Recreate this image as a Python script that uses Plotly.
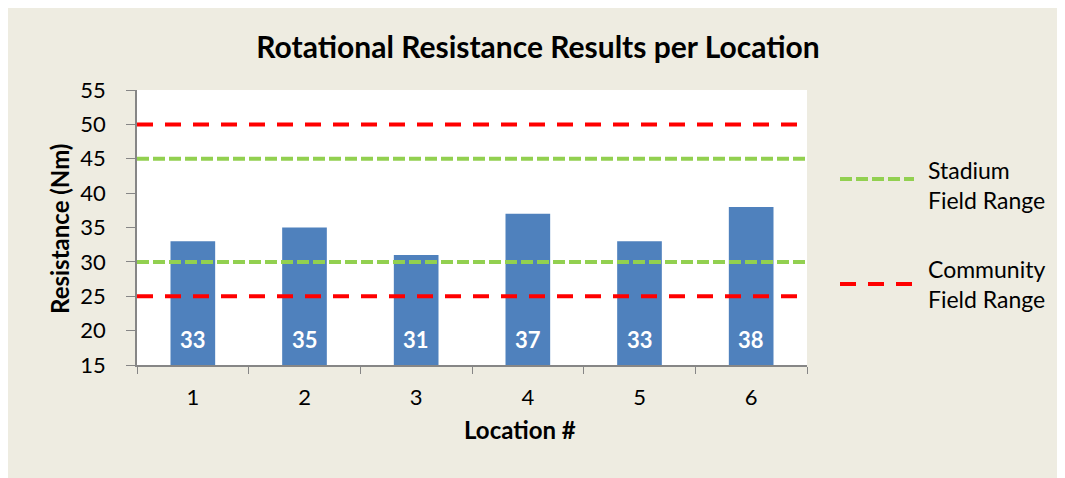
import plotly.graph_objects as go

locations = ["1", "2", "3", "4", "5", "6"]
resistance = [33, 35, 31, 37, 33, 38]
stadium_range = [30, 45]
community_range = [25, 50]
axis_min, axis_max = 15, 55

OFF = 8  # page body margin
W, H = 1065, 478
ML, MT = 137 - OFF, 90 - OFF
MR = W - (807 - OFF)
MB = H - (365 - OFF)
PW, PH = W - ML - MR, H - MT - MB

def px_x(px):
    return (px - OFF - ML) / PW

def px_y(py):
    return (H - MB - (py - OFF)) / PH

FONT = "Lato"
BG = "#EEECE1"
BAR = "#4F81BD"
RED = "#FF0000"
GREEN = "#92D050"
AX = "#868686"

fig = go.Figure()
fig.add_trace(go.Bar(
    x=locations,
    y=[v - axis_min for v in resistance],
    base=axis_min,
    marker=dict(color=BAR, line=dict(width=0)),
    width=0.4,
    showlegend=False,
    hovertext=[str(v) for v in resistance],
))

shapes = []
for v in stadium_range:
    shapes.append(dict(type="line", xref="paper", yref="y", x0=0, x1=1, y0=v, y1=v,
                       line=dict(color=GREEN, width=4, dash="12px,4px"), layer="above"))
for v in community_range:
    shapes.append(dict(type="line", xref="paper", yref="y", x0=0, x1=1, y0=v, y1=v,
                       line=dict(color=RED, width=4, dash="16px,12px"), layer="above"))
# legend samples
shapes.append(dict(type="line", xref="paper", yref="paper", x0=px_x(840), x1=px_x(914),
                   y0=px_y(179), y1=px_y(179), line=dict(color=GREEN, width=4, dash="12px,4px")))
shapes.append(dict(type="line", xref="paper", yref="paper", x0=px_x(840), x1=px_x(914),
                   y0=px_y(284), y1=px_y(284), line=dict(color=RED, width=4, dash="16px,12px")))

annotations = []
for i, v in enumerate(resistance):
    annotations.append(dict(x=i, y=axis_min, xref="x", yref="y", text=f"<b>{v}</b>",
                            showarrow=False, yanchor="middle", yshift=365 - 339,
                            font=dict(family=FONT, size=22, color="white")))
annotations.append(dict(x=px_x(926), y=px_y(185), xref="paper", yref="paper",
                        text="Stadium<br>Field Range", showarrow=False, xanchor="left",
                        yanchor="middle", align="left",
                        font=dict(family=FONT, size=23, color="black")))
annotations.append(dict(x=px_x(926), y=px_y(284), xref="paper", yref="paper",
                        text="Community<br>Field Range", showarrow=False, xanchor="left",
                        yanchor="middle", align="left",
                        font=dict(family=FONT, size=23, color="black")))
annotations.append(dict(x=px_x(520), y=px_y(429), xref="paper", yref="paper",
                        text="<b>Location #</b>", showarrow=False,
                        xanchor="center", yanchor="middle",
                        font=dict(family=FONT, size=24, color="black")))
annotations.append(dict(x=px_x(60), y=px_y(229), xref="paper", yref="paper",
                        text="<b>Resistance (Nm)</b>", showarrow=False, textangle=-90,
                        xanchor="center", yanchor="middle",
                        font=dict(family=FONT, size=24, color="black")))

fig.update_layout(
    width=W, height=H,
    margin=dict(l=ML, r=MR, t=MT, b=MB),
    paper_bgcolor=BG,
    plot_bgcolor="white",
    title=dict(text="<b>Rotational Resistance Results per Location</b>",
               x=px_x(538), xref="paper", xanchor="center",
               y=1 - (47 - OFF) / H, yanchor="middle",
               font=dict(family=FONT, size=30, color="black")),
    bargap=0.6,
    shapes=shapes,
    annotations=annotations,
    font=dict(family=FONT),
    xaxis=dict(type="category", tickson="boundaries", ticks="outside", ticklen=7,
               tickcolor=AX, showline=True, linecolor=AX, linewidth=1.5,
               ticklabelstandoff=12,
               tickfont=dict(family=FONT, size=22, color="black"), showgrid=False),
    yaxis=dict(range=[axis_min, axis_max], dtick=5, ticks="outside", ticklen=9,
               tickcolor=AX, showline=True, linecolor=AX, linewidth=1.5,
               ticklabelstandoff=16,
               tickfont=dict(family=FONT, size=22, color="black"), showgrid=False,
               zeroline=False),
)

fig.write_html("out.html")
